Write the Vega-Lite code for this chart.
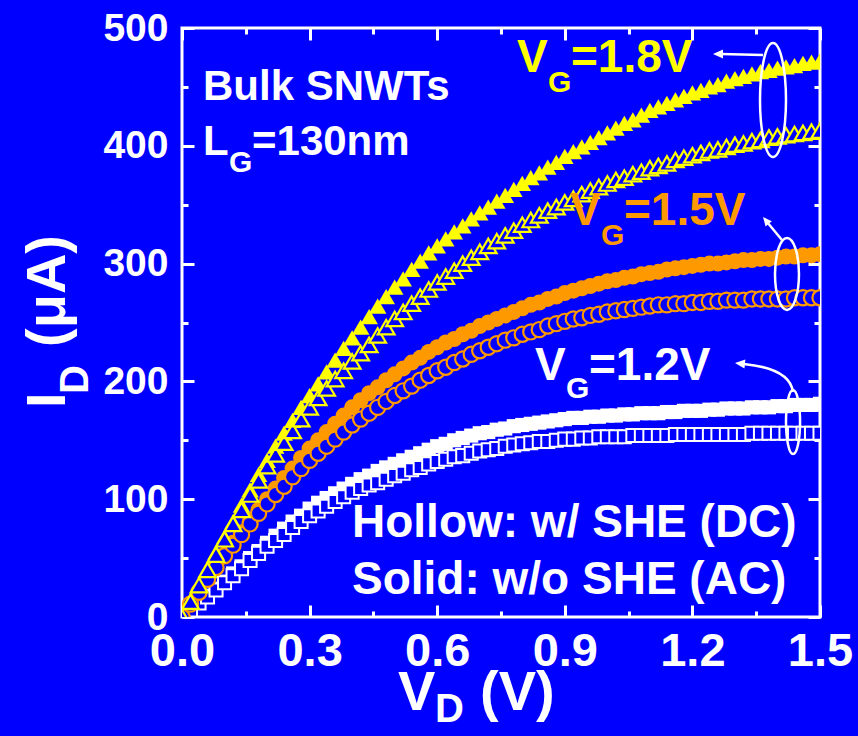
{
  "$schema": "https://vega.github.io/schema/vega-lite/v6.json",
  "width": 638,
  "height": 589,
  "autosize": {"type": "none"},
  "padding": {"left": 182, "top": 28, "right": 38, "bottom": 119},
  "background": "#0000FF",
  "config": {
    "view": {"stroke": "white", "strokeWidth": 3},
    "font": "Liberation Sans",
    "text": {"font": "Liberation Sans", "fontWeight": "bold", "align": "left", "baseline": "alphabetic"}
  },
  "datasets": {
    "Y1": [{"v":0,"i":0},{"v":0.02,"i":14},{"v":0.04,"i":27},{"v":0.06,"i":41},{"v":0.08,"i":55},{"v":0.1,"i":68},{"v":0.12,"i":81},{"v":0.14,"i":95},{"v":0.16,"i":108},{"v":0.18,"i":121},{"v":0.2,"i":133},{"v":0.22,"i":145},{"v":0.24,"i":156},{"v":0.26,"i":167},{"v":0.28,"i":178},{"v":0.3,"i":188},{"v":0.32,"i":198},{"v":0.34,"i":208},{"v":0.36,"i":218},{"v":0.38,"i":228},{"v":0.4,"i":237},{"v":0.42,"i":246},{"v":0.44,"i":255},{"v":0.46,"i":264},{"v":0.48,"i":272},{"v":0.5,"i":280},{"v":0.52,"i":287},{"v":0.54,"i":295},{"v":0.56,"i":302},{"v":0.58,"i":309},{"v":0.6,"i":315},{"v":0.62,"i":321},{"v":0.64,"i":327},{"v":0.66,"i":332},{"v":0.68,"i":338},{"v":0.7,"i":343},{"v":0.72,"i":348},{"v":0.74,"i":353},{"v":0.76,"i":358},{"v":0.78,"i":363},{"v":0.8,"i":368},{"v":0.82,"i":373},{"v":0.84,"i":377},{"v":0.86,"i":382},{"v":0.88,"i":386},{"v":0.9,"i":391},{"v":0.92,"i":395},{"v":0.94,"i":399},{"v":0.96,"i":403},{"v":0.98,"i":407},{"v":1,"i":411},{"v":1.02,"i":415},{"v":1.04,"i":419},{"v":1.06,"i":422},{"v":1.08,"i":426},{"v":1.1,"i":430},{"v":1.12,"i":433},{"v":1.14,"i":436},{"v":1.16,"i":439},{"v":1.18,"i":442},{"v":1.2,"i":445},{"v":1.22,"i":447},{"v":1.24,"i":450},{"v":1.26,"i":452},{"v":1.28,"i":455},{"v":1.3,"i":457},{"v":1.32,"i":459},{"v":1.34,"i":461},{"v":1.36,"i":463},{"v":1.38,"i":464},{"v":1.4,"i":466},{"v":1.42,"i":467},{"v":1.44,"i":468},{"v":1.46,"i":470},{"v":1.48,"i":471},{"v":1.5,"i":472}],
    "Y2": [{"v":0,"i":0},{"v":0.02,"i":13},{"v":0.04,"i":27},{"v":0.06,"i":40},{"v":0.08,"i":53},{"v":0.1,"i":66},{"v":0.12,"i":79},{"v":0.14,"i":91},{"v":0.16,"i":104},{"v":0.18,"i":116},{"v":0.2,"i":128},{"v":0.22,"i":138},{"v":0.24,"i":148},{"v":0.26,"i":158},{"v":0.28,"i":168},{"v":0.3,"i":178},{"v":0.32,"i":186},{"v":0.34,"i":194},{"v":0.36,"i":202},{"v":0.38,"i":209},{"v":0.4,"i":217},{"v":0.42,"i":224},{"v":0.44,"i":231},{"v":0.46,"i":239},{"v":0.48,"i":246},{"v":0.5,"i":253},{"v":0.52,"i":259},{"v":0.54,"i":266},{"v":0.56,"i":272},{"v":0.58,"i":278},{"v":0.6,"i":284},{"v":0.62,"i":289},{"v":0.64,"i":294},{"v":0.66,"i":300},{"v":0.68,"i":305},{"v":0.7,"i":310},{"v":0.72,"i":315},{"v":0.74,"i":319},{"v":0.76,"i":324},{"v":0.78,"i":328},{"v":0.8,"i":333},{"v":0.82,"i":337},{"v":0.84,"i":341},{"v":0.86,"i":345},{"v":0.88,"i":348},{"v":0.9,"i":352},{"v":0.92,"i":355},{"v":0.94,"i":359},{"v":0.96,"i":362},{"v":0.98,"i":365},{"v":1,"i":368},{"v":1.02,"i":371},{"v":1.04,"i":373},{"v":1.06,"i":376},{"v":1.08,"i":378},{"v":1.1,"i":381},{"v":1.12,"i":383},{"v":1.14,"i":385},{"v":1.16,"i":388},{"v":1.18,"i":390},{"v":1.2,"i":392},{"v":1.22,"i":394},{"v":1.24,"i":396},{"v":1.26,"i":397},{"v":1.28,"i":399},{"v":1.3,"i":401},{"v":1.32,"i":402},{"v":1.34,"i":404},{"v":1.36,"i":405},{"v":1.38,"i":407},{"v":1.4,"i":408},{"v":1.42,"i":409},{"v":1.44,"i":410},{"v":1.46,"i":411},{"v":1.48,"i":412},{"v":1.5,"i":413}],
    "O1": [{"v":0,"i":0},{"v":0.02,"i":11},{"v":0.04,"i":22},{"v":0.06,"i":32},{"v":0.08,"i":43},{"v":0.1,"i":53},{"v":0.12,"i":63},{"v":0.14,"i":72},{"v":0.16,"i":82},{"v":0.18,"i":91},{"v":0.2,"i":100},{"v":0.22,"i":109},{"v":0.24,"i":118},{"v":0.26,"i":126},{"v":0.28,"i":135},{"v":0.3,"i":143},{"v":0.32,"i":150},{"v":0.34,"i":157},{"v":0.36,"i":164},{"v":0.38,"i":171},{"v":0.4,"i":178},{"v":0.42,"i":184},{"v":0.44,"i":190},{"v":0.46,"i":195},{"v":0.48,"i":201},{"v":0.5,"i":206},{"v":0.52,"i":211},{"v":0.54,"i":216},{"v":0.56,"i":220},{"v":0.58,"i":225},{"v":0.6,"i":229},{"v":0.62,"i":233},{"v":0.64,"i":236},{"v":0.66,"i":240},{"v":0.68,"i":243},{"v":0.7,"i":247},{"v":0.72,"i":250},{"v":0.74,"i":253},{"v":0.76,"i":256},{"v":0.78,"i":259},{"v":0.8,"i":262},{"v":0.82,"i":265},{"v":0.84,"i":267},{"v":0.86,"i":270},{"v":0.88,"i":272},{"v":0.9,"i":275},{"v":0.92,"i":277},{"v":0.94,"i":279},{"v":0.96,"i":281},{"v":0.98,"i":283},{"v":1,"i":285},{"v":1.02,"i":286},{"v":1.04,"i":288},{"v":1.06,"i":289},{"v":1.08,"i":291},{"v":1.1,"i":292},{"v":1.12,"i":293},{"v":1.14,"i":295},{"v":1.16,"i":296},{"v":1.18,"i":297},{"v":1.2,"i":298},{"v":1.22,"i":299},{"v":1.24,"i":300},{"v":1.26,"i":300},{"v":1.28,"i":301},{"v":1.3,"i":302},{"v":1.32,"i":303},{"v":1.34,"i":303},{"v":1.36,"i":304},{"v":1.38,"i":304},{"v":1.4,"i":305},{"v":1.42,"i":306},{"v":1.44,"i":306},{"v":1.46,"i":307},{"v":1.48,"i":307},{"v":1.5,"i":308}],
    "O2": [{"v":0,"i":0},{"v":0.02,"i":11},{"v":0.04,"i":21},{"v":0.06,"i":32},{"v":0.08,"i":42},{"v":0.1,"i":52},{"v":0.12,"i":61},{"v":0.14,"i":70},{"v":0.16,"i":79},{"v":0.18,"i":88},{"v":0.2,"i":96},{"v":0.22,"i":104},{"v":0.24,"i":111},{"v":0.26,"i":119},{"v":0.28,"i":126},{"v":0.3,"i":133},{"v":0.32,"i":139},{"v":0.34,"i":145},{"v":0.36,"i":151},{"v":0.38,"i":157},{"v":0.4,"i":163},{"v":0.42,"i":168},{"v":0.44,"i":173},{"v":0.46,"i":178},{"v":0.48,"i":183},{"v":0.5,"i":188},{"v":0.52,"i":192},{"v":0.54,"i":196},{"v":0.56,"i":201},{"v":0.58,"i":205},{"v":0.6,"i":209},{"v":0.62,"i":212},{"v":0.64,"i":216},{"v":0.66,"i":219},{"v":0.68,"i":223},{"v":0.7,"i":226},{"v":0.72,"i":229},{"v":0.74,"i":232},{"v":0.76,"i":235},{"v":0.78,"i":237},{"v":0.8,"i":240},{"v":0.82,"i":242},{"v":0.84,"i":244},{"v":0.86,"i":247},{"v":0.88,"i":249},{"v":0.9,"i":251},{"v":0.92,"i":253},{"v":0.94,"i":254},{"v":0.96,"i":256},{"v":0.98,"i":257},{"v":1,"i":259},{"v":1.02,"i":260},{"v":1.04,"i":261},{"v":1.06,"i":262},{"v":1.08,"i":263},{"v":1.1,"i":264},{"v":1.12,"i":265},{"v":1.14,"i":265},{"v":1.16,"i":266},{"v":1.18,"i":266},{"v":1.2,"i":267},{"v":1.22,"i":267},{"v":1.24,"i":268},{"v":1.26,"i":268},{"v":1.28,"i":269},{"v":1.3,"i":269},{"v":1.32,"i":269},{"v":1.34,"i":270},{"v":1.36,"i":270},{"v":1.38,"i":270},{"v":1.4,"i":270},{"v":1.42,"i":270},{"v":1.44,"i":271},{"v":1.46,"i":271},{"v":1.48,"i":271},{"v":1.5,"i":271}],
    "W1": [{"v":0,"i":0},{"v":0.02,"i":6},{"v":0.04,"i":12},{"v":0.06,"i":18},{"v":0.08,"i":24},{"v":0.1,"i":30},{"v":0.12,"i":37},{"v":0.14,"i":43},{"v":0.16,"i":50},{"v":0.18,"i":56},{"v":0.2,"i":63},{"v":0.22,"i":69},{"v":0.24,"i":75},{"v":0.26,"i":81},{"v":0.28,"i":86},{"v":0.3,"i":92},{"v":0.32,"i":97},{"v":0.34,"i":101},{"v":0.36,"i":105},{"v":0.38,"i":109},{"v":0.4,"i":113},{"v":0.42,"i":117},{"v":0.44,"i":120},{"v":0.46,"i":124},{"v":0.48,"i":127},{"v":0.5,"i":130},{"v":0.52,"i":133},{"v":0.54,"i":136},{"v":0.56,"i":139},{"v":0.58,"i":142},{"v":0.6,"i":145},{"v":0.62,"i":147},{"v":0.64,"i":150},{"v":0.66,"i":152},{"v":0.68,"i":154},{"v":0.7,"i":156},{"v":0.72,"i":157},{"v":0.74,"i":159},{"v":0.76,"i":160},{"v":0.78,"i":162},{"v":0.8,"i":163},{"v":0.82,"i":164},{"v":0.84,"i":165},{"v":0.86,"i":166},{"v":0.88,"i":167},{"v":0.9,"i":168},{"v":0.92,"i":169},{"v":0.94,"i":169},{"v":0.96,"i":170},{"v":0.98,"i":170},{"v":1,"i":171},{"v":1.02,"i":171},{"v":1.04,"i":172},{"v":1.06,"i":172},{"v":1.08,"i":173},{"v":1.1,"i":173},{"v":1.12,"i":173},{"v":1.14,"i":174},{"v":1.16,"i":174},{"v":1.18,"i":175},{"v":1.2,"i":175},{"v":1.22,"i":175},{"v":1.24,"i":176},{"v":1.26,"i":176},{"v":1.28,"i":177},{"v":1.3,"i":177},{"v":1.32,"i":177},{"v":1.34,"i":178},{"v":1.36,"i":178},{"v":1.38,"i":178},{"v":1.4,"i":179},{"v":1.42,"i":179},{"v":1.44,"i":180},{"v":1.46,"i":180},{"v":1.48,"i":180},{"v":1.5,"i":181}],
    "W2": [{"v":0,"i":0},{"v":0.02,"i":6},{"v":0.04,"i":12},{"v":0.06,"i":17},{"v":0.08,"i":23},{"v":0.1,"i":29},{"v":0.12,"i":35},{"v":0.14,"i":41},{"v":0.16,"i":48},{"v":0.18,"i":54},{"v":0.2,"i":60},{"v":0.22,"i":65},{"v":0.24,"i":70},{"v":0.26,"i":76},{"v":0.28,"i":81},{"v":0.3,"i":86},{"v":0.32,"i":90},{"v":0.34,"i":94},{"v":0.36,"i":98},{"v":0.38,"i":102},{"v":0.4,"i":106},{"v":0.42,"i":109},{"v":0.44,"i":112},{"v":0.46,"i":114},{"v":0.48,"i":117},{"v":0.5,"i":120},{"v":0.52,"i":122},{"v":0.54,"i":125},{"v":0.56,"i":127},{"v":0.58,"i":130},{"v":0.6,"i":132},{"v":0.62,"i":134},{"v":0.64,"i":136},{"v":0.66,"i":137},{"v":0.68,"i":139},{"v":0.7,"i":141},{"v":0.72,"i":142},{"v":0.74,"i":143},{"v":0.76,"i":145},{"v":0.78,"i":146},{"v":0.8,"i":147},{"v":0.82,"i":148},{"v":0.84,"i":149},{"v":0.86,"i":149},{"v":0.88,"i":150},{"v":0.9,"i":151},{"v":0.92,"i":151},{"v":0.94,"i":152},{"v":0.96,"i":152},{"v":0.98,"i":153},{"v":1,"i":153},{"v":1.02,"i":153},{"v":1.04,"i":153},{"v":1.06,"i":154},{"v":1.08,"i":154},{"v":1.1,"i":154},{"v":1.12,"i":154},{"v":1.14,"i":154},{"v":1.16,"i":155},{"v":1.18,"i":155},{"v":1.2,"i":155},{"v":1.22,"i":155},{"v":1.24,"i":155},{"v":1.26,"i":155},{"v":1.28,"i":155},{"v":1.3,"i":155},{"v":1.32,"i":155},{"v":1.34,"i":156},{"v":1.36,"i":156},{"v":1.38,"i":156},{"v":1.4,"i":156},{"v":1.42,"i":156},{"v":1.44,"i":156},{"v":1.46,"i":156},{"v":1.48,"i":156},{"v":1.5,"i":156}],
    "deco": [{"id":"e1","v":1.3895,"i":438.9},{"id":"e2","v":1.4224,"i":291.2},{"id":"e3","v":1.4366,"i":165.5},{"id":"a1","v":1.3072,"i":477.9},{"id":"a2","v":1.3883,"i":329.8},{"id":"a3","v":1.3683,"i":203.3}]
  },
  "resolve": {"axis": {"x": "independent", "y": "independent"}},
  "layer": [
    {
      "data": {"name": "W1"},
      "mark": {"type": "point", "shape": "square", "filled": true, "fill": "white", "strokeWidth": 0, "size": 200, "opacity": 1, "clip": true},
      "encoding": {
        "x": {"field": "v", "type": "quantitative", "scale": {"domain": [0, 1.5], "nice": false, "zero": false},
          "axis": {"orient": "bottom", "values": [0,0.15,0.3,0.45,0.6,0.75,0.9,1.05,1.2,1.35,1.5], "domain": false, "grid": false, "title": null,
            "tickColor": "white", "tickWidth": 3,
            "tickSize": {"condition": {"test": "abs(datum.value/0.3-round(datum.value/0.3))<0.01", "value": -12}, "value": -6},
            "labelExpr": "abs(datum.value/0.3-round(datum.value/0.3))<0.01 ? format(datum.value,'.1f') : ''",
            "labelFont": "Liberation Sans", "labelFontWeight": "bold", "labelFontSize": 47, "labelColor": "white",
            "labelBaseline": "top", "labelPadding": 23, "labelFlush": false, "labelOverlap": false, "labelBound": false}},
        "y": {"field": "i", "type": "quantitative", "scale": {"domain": [0, 500], "nice": false, "zero": false},
          "axis": {"orient": "left", "values": [0,50,100,150,200,250,300,350,400,450,500], "domain": false, "grid": false, "title": null,
            "tickColor": "white", "tickWidth": 3,
            "tickSize": {"condition": {"test": "datum.value % 100 === 0", "value": -12}, "value": -6},
            "labelExpr": "datum.value % 100 === 0 ? format(datum.value,'d') : ''",
            "labelFont": "Liberation Sans", "labelFontWeight": "bold", "labelFontSize": 39, "labelColor": "white",
            "labelPadding": 26, "labelFlush": false, "labelOverlap": false, "labelBound": false}}
      }
    },
    {
      "data": {"name": "W2"},
      "mark": {"type": "point", "shape": "square", "filled": true, "fill": "#0000FF", "stroke": "white", "strokeWidth": 2, "size": 170, "opacity": 1, "clip": true},
      "encoding": {
        "x": {"field": "v", "type": "quantitative",
          "axis": {"orient": "top", "values": [0,0.15,0.3,0.45,0.6,0.75,0.9,1.05,1.2,1.35,1.5], "domain": false, "grid": false, "title": null, "labels": false,
            "tickColor": "white", "tickWidth": 3,
            "tickSize": {"condition": {"test": "abs(datum.value/0.3-round(datum.value/0.3))<0.01", "value": -12}, "value": -6}}},
        "y": {"field": "i", "type": "quantitative",
          "axis": {"orient": "right", "values": [0,50,100,150,200,250,300,350,400,450,500], "domain": false, "grid": false, "title": null, "labels": false,
            "tickColor": "white", "tickWidth": 3,
            "tickSize": {"condition": {"test": "datum.value % 100 === 0", "value": -12}, "value": -6}}}
      }
    },
    {
      "data": {"name": "O1"},
      "mark": {"type": "point", "shape": "circle", "filled": true, "fill": "#FF9900", "strokeWidth": 0, "size": 256, "opacity": 1, "clip": true},
      "encoding": {"x": {"field": "v", "type": "quantitative", "axis": null}, "y": {"field": "i", "type": "quantitative", "axis": null}}
    },
    {
      "data": {"name": "O2"},
      "mark": {"type": "point", "shape": "circle", "filled": true, "fill": "#0000FF", "stroke": "#FF9900", "strokeWidth": 2.2, "size": 230, "opacity": 1, "clip": true},
      "encoding": {"x": {"field": "v", "type": "quantitative", "axis": null}, "y": {"field": "i", "type": "quantitative", "axis": null}}
    },
    {
      "data": {"name": "Y1"},
      "mark": {"type": "point", "shape": "triangle-up", "filled": true, "fill": "#FFFF00", "strokeWidth": 0, "size": 310, "opacity": 1, "clip": true},
      "encoding": {"x": {"field": "v", "type": "quantitative", "axis": null}, "y": {"field": "i", "type": "quantitative", "axis": null}}
    },
    {
      "data": {"name": "Y2"},
      "mark": {"type": "point", "shape": "triangle-up", "filled": true, "fill": "#0000FF", "stroke": "#FFFF00", "strokeWidth": 2.2, "size": 280, "opacity": 1, "clip": true},
      "encoding": {"x": {"field": "v", "type": "quantitative", "axis": null}, "y": {"field": "i", "type": "quantitative", "axis": null}}
    },
    {
      "data": {"name": "deco"},
      "transform": [{"filter": "datum.id === 'e1'"}],
      "mark": {"type": "point", "shape": "M0,-1A0.228,1,0,1,1,0,1A0.228,1,0,1,1,0,-1Z", "filled": false, "stroke": "white", "strokeWidth": 2.5, "size": 12996, "opacity": 1},
      "encoding": {"x": {"field": "v", "type": "quantitative", "axis": null}, "y": {"field": "i", "type": "quantitative", "axis": null}}
    },
    {
      "data": {"name": "deco"},
      "transform": [{"filter": "datum.id === 'e2'"}],
      "mark": {"type": "point", "shape": "M0,-1A0.333,1,0,1,1,0,1A0.333,1,0,1,1,0,-1Z", "filled": false, "stroke": "white", "strokeWidth": 2.5, "size": 5184, "opacity": 1},
      "encoding": {"x": {"field": "v", "type": "quantitative", "axis": null}, "y": {"field": "i", "type": "quantitative", "axis": null}}
    },
    {
      "data": {"name": "deco"},
      "transform": [{"filter": "datum.id === 'e3'"}],
      "mark": {"type": "point", "shape": "M0,-1A0.22,1,0,1,1,0,1A0.22,1,0,1,1,0,-1Z", "filled": false, "stroke": "white", "strokeWidth": 2.5, "size": 4096, "opacity": 1},
      "encoding": {"x": {"field": "v", "type": "quantitative", "axis": null}, "y": {"field": "i", "type": "quantitative", "axis": null}}
    },
    {
      "data": {"name": "deco"},
      "transform": [{"filter": "datum.id === 'a1'"}],
      "mark": {"type": "point", "shape": "M1,0.04L-0.7,0", "filled": false, "stroke": "white", "strokeWidth": 2.5, "size": 2500, "opacity": 1},
      "encoding": {"x": {"field": "v", "type": "quantitative", "axis": null}, "y": {"field": "i", "type": "quantitative", "axis": null}}
    },
    {
      "data": {"name": "deco"},
      "transform": [{"filter": "datum.id === 'a1'"}],
      "mark": {"type": "point", "shape": "M-1,0L-0.6,-0.18L-0.6,0.18Z", "filled": true, "fill": "white", "strokeWidth": 0, "size": 2500, "opacity": 1},
      "encoding": {"x": {"field": "v", "type": "quantitative", "axis": null}, "y": {"field": "i", "type": "quantitative", "axis": null}}
    },
    {
      "data": {"name": "deco"},
      "transform": [{"filter": "datum.id === 'a2'"}],
      "mark": {"type": "point", "shape": "M0.633,0.767L-0.35,-0.42", "filled": false, "stroke": "white", "strokeWidth": 2.5, "size": 900, "opacity": 1},
      "encoding": {"x": {"field": "v", "type": "quantitative", "axis": null}, "y": {"field": "i", "type": "quantitative", "axis": null}}
    },
    {
      "data": {"name": "deco"},
      "transform": [{"filter": "datum.id === 'a2'"}],
      "mark": {"type": "point", "shape": "M-0.633,-0.767L-0.043,-0.476L-0.459,-0.132Z", "filled": true, "fill": "white", "strokeWidth": 0, "size": 900, "opacity": 1},
      "encoding": {"x": {"field": "v", "type": "quantitative", "axis": null}, "y": {"field": "i", "type": "quantitative", "axis": null}}
    },
    {
      "data": {"name": "deco"},
      "transform": [{"filter": "datum.id === 'a3'"}],
      "mark": {"type": "point", "shape": "M1,0.5Q0.896,-0.31,-0.7,-0.47", "filled": false, "stroke": "white", "strokeWidth": 2.5, "size": 3364, "opacity": 1},
      "encoding": {"x": {"field": "v", "type": "quantitative", "axis": null}, "y": {"field": "i", "type": "quantitative", "axis": null}}
    },
    {
      "data": {"name": "deco"},
      "transform": [{"filter": "datum.id === 'a3'"}],
      "mark": {"type": "point", "shape": "M-1,-0.5L-0.6415,-0.62L-0.6725,-0.311Z", "filled": true, "fill": "white", "strokeWidth": 0, "size": 3364, "opacity": 1},
      "encoding": {"x": {"field": "v", "type": "quantitative", "axis": null}, "y": {"field": "i", "type": "quantitative", "axis": null}}
    },
    {
      "data": {"values": [{"v":0.0494,"i":438.9,"t":"Bulk SNWTs"},{"v":0.0494,"i":392.2,"t":"L"},{"v":0.1646,"i":392.2,"t":"=130nm"}]},
      "mark": {"type": "text", "fontSize": 42, "fill": "white"},
      "encoding": {"x": {"field": "v", "type": "quantitative", "axis": null}, "y": {"field": "i", "type": "quantitative", "axis": null}, "text": {"field": "t"}}
    },
    {
      "data": {"values": [{"v":0.1105,"i":377.8,"t":"G"},{"v":0.9028,"i":185.9,"t":"G"}]},
      "mark": {"type": "text", "fontSize": 30, "fill": "white"},
      "encoding": {"x": {"field": "v", "type": "quantitative", "axis": null}, "y": {"field": "i", "type": "quantitative", "axis": null}, "text": {"field": "t"}}
    },
    {
      "data": {"values": [{"v":0.8299,"i":201.2,"t":"V"},{"v":0.9569,"i":201.2,"t":"=1.2V"},{"v":0.3997,"i":67.9,"t":"Hollow: w/ SHE (DC)"},{"v":0.3997,"i":19.5,"t":"Solid: w/o SHE (AC)"}]},
      "mark": {"type": "text", "fontSize": 46, "fill": "white"},
      "encoding": {"x": {"field": "v", "type": "quantitative", "axis": null}, "y": {"field": "i", "type": "quantitative", "axis": null}, "text": {"field": "t"}}
    },
    {
      "data": {"values": [{"v":0.7876,"i":462.6,"t":"V"},{"v":0.9146,"i":462.6,"t":"=1.8V"}]},
      "mark": {"type": "text", "fontSize": 46, "fill": "#FFFF00"},
      "encoding": {"x": {"field": "v", "type": "quantitative", "axis": null}, "y": {"field": "i", "type": "quantitative", "axis": null}, "text": {"field": "t"}}
    },
    {
      "data": {"values": [{"v":0.8605,"i":445.7,"t":"G"}]},
      "mark": {"type": "text", "fontSize": 30, "fill": "#FFFF00"},
      "encoding": {"x": {"field": "v", "type": "quantitative", "axis": null}, "y": {"field": "i", "type": "quantitative", "axis": null}, "text": {"field": "t"}}
    },
    {
      "data": {"values": [{"v":0.9122,"i":332.8,"t":"V"},{"v":1.0392,"i":332.8,"t":"=1.5V"}]},
      "mark": {"type": "text", "fontSize": 46, "fill": "#FF9900"},
      "encoding": {"x": {"field": "v", "type": "quantitative", "axis": null}, "y": {"field": "i", "type": "quantitative", "axis": null}, "text": {"field": "t"}}
    },
    {
      "data": {"values": [{"v":0.9851,"i":315.8,"t":"G"}]},
      "mark": {"type": "text", "fontSize": 30, "fill": "#FF9900"},
      "encoding": {"x": {"field": "v", "type": "quantitative", "axis": null}, "y": {"field": "i", "type": "quantitative", "axis": null}, "text": {"field": "t"}}
    },
    {
      "data": {"values": [{"v":0.5078,"i":-78.9,"t":"V"},{"v":0.7006,"i":-78.9,"t":"(V)"}]},
      "mark": {"type": "text", "fontSize": 56, "fill": "white"},
      "encoding": {"x": {"field": "v", "type": "quantitative", "axis": null}, "y": {"field": "i", "type": "quantitative", "axis": null}, "text": {"field": "t"}}
    },
    {
      "data": {"values": [{"v":0.5948,"i":-89.1,"t":"D"}]},
      "mark": {"type": "text", "fontSize": 40, "fill": "white"},
      "encoding": {"x": {"field": "v", "type": "quantitative", "axis": null}, "y": {"field": "i", "type": "quantitative", "axis": null}, "text": {"field": "t"}}
    },
    {
      "data": {"values": [{"v":-0.2751,"i":177.4,"t":"I"},{"v":-0.2751,"i":229.2,"t":"(μA)"}]},
      "mark": {"type": "text", "fontSize": 56, "fill": "white", "angle": 270},
      "encoding": {"x": {"field": "v", "type": "quantitative", "axis": null}, "y": {"field": "i", "type": "quantitative", "axis": null}, "text": {"field": "t"}}
    },
    {
      "data": {"values": [{"v":-0.221,"i":189.3,"t":"D"}]},
      "mark": {"type": "text", "fontSize": 40, "fill": "white", "angle": 270},
      "encoding": {"x": {"field": "v", "type": "quantitative", "axis": null}, "y": {"field": "i", "type": "quantitative", "axis": null}, "text": {"field": "t"}}
    }
  ]
}
